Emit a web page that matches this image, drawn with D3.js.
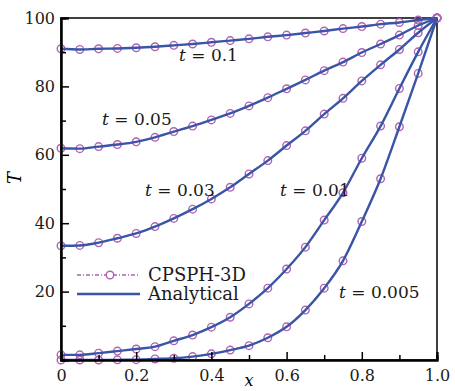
<!DOCTYPE html>
<html><head><meta charset="utf-8">
<script src="https://cdn.jsdelivr.net/npm/d3@7"></script>
<style>body{margin:0;background:#fff}svg{display:block}</style>
</head><body><svg id="c" width="455" height="391"></svg>
<script>
const xs = [0,0.05,0.1,0.15,0.2,0.25,0.3,0.35,0.4,0.45,0.5,0.55,0.6,0.65,0.7,0.75,0.8,0.85,0.9,0.95,1.0];
const T_t0005 = [0.0,0.0,0.0,0.05,0.1,0.3,0.5,1.0,1.8,2.9,4.2,6.5,9.7,14.6,21.0,29.0,40.5,53.0,68.2,83.8,100];
const T_t001  = [1.5,1.5,2.0,2.6,3.2,3.9,5.6,7.3,9.6,12.5,16.4,21.0,26.6,33.0,40.9,48.9,59.0,68.4,79.4,90.1,100];
const T_t003  = [33.4,33.5,34.3,35.6,37.0,39.0,41.4,44.1,47.1,50.5,54.4,58.3,62.7,67.0,71.9,76.5,81.6,86.3,90.8,95.7,100];
const T_t005  = [61.9,61.8,62.4,63.0,63.8,65.1,66.8,68.4,70.2,72.1,74.3,76.7,79.3,81.9,84.6,87.1,89.9,92.4,95.0,97.8,100];
const T_t01   = [91.0,90.8,91.0,91.1,91.3,91.6,92.0,92.4,92.9,93.4,93.9,94.5,95.0,95.6,96.2,96.9,97.5,98.2,98.7,99.4,100];
const series = [T_t0005, T_t001, T_t003, T_t005, T_t01];
const curveLabels = ["0.005","0.01","0.03","0.05","0.1"];
const labelPos = [[339,298],[280,196],[145,196],[102,125],[179,61]];
const xTicks = [0,0.2,0.4,0.6,0.8,1.0];
const xTickLabels = ["0","0.2","0.4","0.6","0.8","1.0"];
const yTicks = [0,20,40,60,80,100];
const yTickLabels = ["","20","40","60","80","100"];
const legendLabels = ["CPSPH-3D","Analytical"];

const W=455,H=391,m={l:61,r:18,t:18,b:31};
const svg=d3.select("#c");
const x=d3.scaleLinear().domain([0,1]).range([m.l,W-m.r]);
const y=d3.scaleLinear().domain([0,100]).range([H-m.b,m.t]);
const font="'DejaVu Serif', serif";
const blue="#3b55a6", purple="#b063b3";

// frame
svg.append("rect").attr("x",x(0)).attr("y",y(100)).attr("width",x(1)-x(0)).attr("height",y(0)-y(100))
  .attr("fill","none").attr("stroke","#000").attr("stroke-width",1.5);

const g=svg.append("g");
const lineS=d3.line().x((d,i)=>x(xs[i])).y(d=>y(d));
const lineA=d3.line().x((d,i)=>x(xs[i])).y(d=>y(d)).curve(d3.curveMonotoneX);
series.forEach(s=>{
  g.append("path").attr("d",lineS(s)).attr("fill","none").attr("stroke",purple)
   .attr("stroke-width",1.3).attr("stroke-dasharray","4,2,1,2");
  g.selectAll(null).data(s).enter().append("circle")
   .attr("cx",(d,i)=>x(xs[i])).attr("cy",d=>y(d)).attr("r",3.8)
   .attr("fill","none").attr("stroke",purple).attr("stroke-width",1.4);
});
series.forEach(s=>{
  g.append("path").attr("d",lineA(s)).attr("fill","none").attr("stroke",blue).attr("stroke-width",2.4);
});

// axes
svg.append("g").attr("transform",`translate(0,${y(0)})`)
  .call(d3.axisBottom(x).tickValues(xTicks).tickSize(-8).tickPadding(10).tickFormat((d,i)=>xTickLabels[i]));
svg.append("g").attr("transform",`translate(0,${y(0)})`)
  .call(d3.axisBottom(x).tickValues([0.1,0.3,0.5,0.7,0.9]).tickSize(-5).tickFormat(""));
svg.append("g").attr("transform",`translate(${x(0)},0)`)
  .call(d3.axisLeft(y).tickValues(yTicks).tickSize(-8).tickPadding(6).tickFormat((d,i)=>yTickLabels[i]));
svg.append("g").attr("transform",`translate(${x(0)},0)`)
  .call(d3.axisLeft(y).tickValues([10,30,50,70,90]).tickSize(-5).tickFormat(""));
svg.selectAll(".domain").attr("stroke","#000").attr("stroke-width",2);
svg.selectAll(".tick line").attr("stroke","#000").attr("stroke-width",1.5);
svg.selectAll(".tick text").attr("font-family",font).attr("font-size",16).attr("fill","#1a1a1a");

// axis titles
svg.append("text").attr("x",x(0.5)).attr("y",386).attr("text-anchor","middle")
  .attr("font-family",font).attr("font-style","italic").attr("font-size",16).text("x");
svg.append("text").attr("transform","translate(21,178) rotate(-90)").attr("text-anchor","middle")
  .attr("font-family",font).attr("font-style","italic").attr("font-size",18).text("T");

// curve labels
curveLabels.forEach((l,i)=>{
  const t=svg.append("text").attr("x",labelPos[i][0]).attr("y",labelPos[i][1])
    .attr("font-family",font).attr("font-size",17).attr("fill","#1a1a1a");
  t.append("tspan").attr("font-style","italic").text("t");
  t.append("tspan").text(" = "+l);
});

// legend
const lg=svg.append("g");
lg.append("line").attr("x1",77).attr("x2",140).attr("y1",275).attr("y2",275)
  .attr("stroke",purple).attr("stroke-width",1.3).attr("stroke-dasharray","4,2,1,2");
lg.append("circle").attr("cx",110).attr("cy",275).attr("r",3.8).attr("fill","#fff").attr("stroke",purple).attr("stroke-width",1.4);
lg.append("line").attr("x1",77).attr("x2",140).attr("y1",294).attr("y2",294).attr("stroke",blue).attr("stroke-width",2.4);
legendLabels.forEach((l,i)=>{
  lg.append("text").attr("x",148).attr("y",281+i*19).attr("font-family",font).attr("font-size",18).attr("fill","#1a1a1a").text(l);
});
</script></body></html>
